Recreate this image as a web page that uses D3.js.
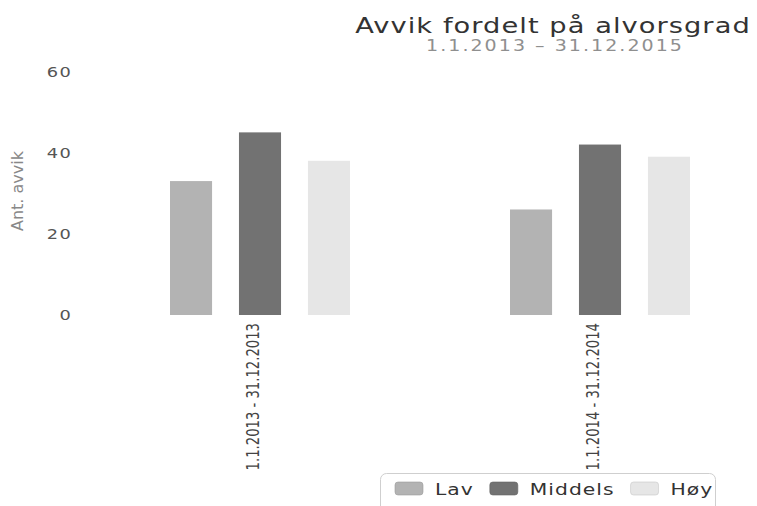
<!DOCTYPE html>
<html>
<head>
<meta charset="utf-8">
<script src="https://cdn.jsdelivr.net/npm/d3@7"></script>
<style>
  body { margin: 0; background: #fff; }
  text { font-family: "DejaVu Sans", sans-serif; }
</style>
</head>
<body>
<div id="vis"></div>
<script>
// data
const CATEGORIES = ['1.1.2013 - 31.12.2013', '1.1.2014 - 31.12.2014'];
const SERIES = ['Lav', 'Middels', 'Høy'];
const LAV = [33, 26];
const MIDDELS = [45, 42];
const HOY = [38, 39];
const Y_TICKS = [0, 20, 40, 60];

const COLORS = ['#b3b3b3', '#727272', '#e6e6e6'];
const FRAME_WIDTH = 757;
const FRAME_HEIGHT = 506;
const STRETCH = 1.27; // the scan is wide, text is drawn a bit wider

const FRAME = d3.select('#vis')
  .append('svg')
    .attr('width', FRAME_WIDTH)
    .attr('height', FRAME_HEIGHT);

// build rows for the grouped bars
const values = [LAV, MIDDELS, HOY];
const rows = CATEGORIES.map((c, i) => ({
  category: c,
  bars: SERIES.map((s, j) => ({ key: s, value: values[j][i] }))
}));

// scales
const X0 = d3.scaleBand()
  .domain(CATEGORIES)
  .range([90, 770])
  .padding(0);

const X1 = d3.scaleBand()
  .domain(SERIES)
  .range([0, X0.bandwidth()])
  .paddingInner(0.39)
  .paddingOuter(1.16);

const Y_SCALE = d3.scaleLinear()
  .domain([0, 60])
  .range([315, 71.5]);

const COLOR = d3.scaleOrdinal().domain(SERIES).range(COLORS);

// title + subtitle
FRAME.append('text')
  .attr('transform', 'translate(553,33) scale(1.3,1)')
  .attr('text-anchor', 'middle')
  .attr('font-size', '21px')
  .attr('letter-spacing', '0.8px')
  .attr('fill', '#333')
  .text('Avvik fordelt på alvorsgrad');

FRAME.append('text')
  .attr('transform', 'translate(555,51) scale(' + STRETCH + ',1)')
  .attr('text-anchor', 'middle')
  .attr('font-size', '15px')
  .attr('letter-spacing', '1.6px')
  .attr('fill', '#8f8f8f')
  .text('1.1.2013 – 31.12.2015');

// y axis (labels only, no line)
const yAxis = FRAME.append('g');
yAxis.selectAll('.ytick')
  .data(Y_TICKS)
  .enter()
  .append('text')
    .attr('class', 'ytick')
    .attr('transform', (d) => 'translate(72,' + Y_SCALE(d) + ') scale(' + STRETCH + ',1)')
    .attr('text-anchor', 'end')
    .attr('dy', '0.36em')
    .attr('font-size', '14px')
    .attr('letter-spacing', '1px')
    .attr('fill', '#555')
    .text((d) => d);

FRAME.append('text')
  .attr('transform', 'translate(23,191) rotate(-90)')
  .attr('text-anchor', 'middle')
  .attr('font-size', '16px')
  .attr('fill', '#888')
  .text('Ant. avvik');

// bars
const groups = FRAME.selectAll('.group')
  .data(rows)
  .enter()
  .append('g')
    .attr('class', 'group')
    .attr('transform', (d) => 'translate(' + X0(d.category) + ',0)');

groups.selectAll('rect')
  .data((d) => d.bars)
  .enter()
  .append('rect')
    .attr('x', (d) => X1(d.key))
    .attr('y', (d) => Y_SCALE(d.value))
    .attr('width', X1.bandwidth())
    .attr('height', (d) => Y_SCALE(0) - Y_SCALE(d.value))
    .attr('fill', (d) => COLOR(d.key));

// x axis labels, rotated (glyphs widened like the scan)
FRAME.selectAll('.xlabel')
  .data(CATEGORIES)
  .enter()
  .append('text')
    .attr('class', 'xlabel')
    .attr('transform', (d) => 'translate(' + (X0(d) + X0.bandwidth() / 2 - 1) + ',323) rotate(-90) scale(1,1.3)')
    .attr('text-anchor', 'end')
    .attr('font-family', '"DejaVu Sans Condensed", "DejaVu Sans", sans-serif')
    .attr('font-size', '13.2px')
    .attr('fill', '#444')
    .text((d) => d);

// legend
const legend = FRAME.append('g');
legend.append('rect')
  .attr('x', 380.5)
  .attr('y', 473.5)
  .attr('width', 335)
  .attr('height', 40)
  .attr('rx', 6)
  .attr('fill', 'none')
  .attr('stroke', '#cfcfcf');

let lx = 395;
SERIES.forEach((s) => {
  legend.append('rect')
    .attr('x', lx)
    .attr('y', 482)
    .attr('width', 28)
    .attr('height', 13)
    .attr('rx', 3)
    .attr('fill', COLOR(s))
    .attr('stroke', d3.color(COLOR(s)).darker(0.4))
    .attr('stroke-width', 0.6);
  const t = legend.append('text')
    .attr('transform', 'translate(' + (lx + 40) + ',495) scale(' + STRETCH + ',1)')
    .attr('font-size', '16px')
    .attr('letter-spacing', '0.8px')
    .attr('fill', '#333')
    .text(s);
  lx += 40 + t.node().getComputedTextLength() * STRETCH + 16;
});
</script>
</body>
</html>
